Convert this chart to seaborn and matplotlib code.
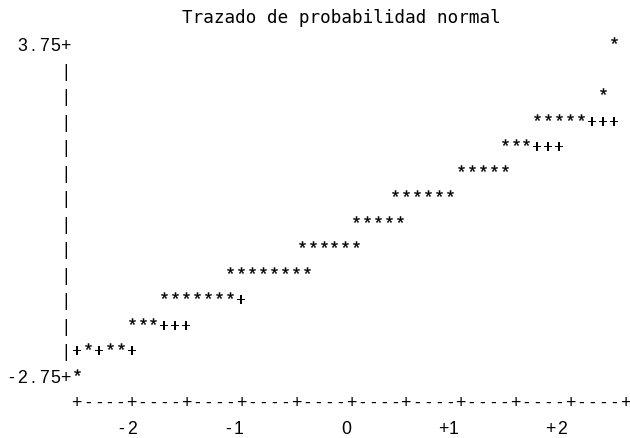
import numpy as np
import pandas as pd
import matplotlib
matplotlib.use("Agg")
import matplotlib.pyplot as plt
import seaborn as sns
from matplotlib.font_manager import FontProperties
from matplotlib.path import Path
from matplotlib.textpath import TextPath

# ---------------------------------------------------------------------------
# Normal probability plot, line-printer style: one text row per 0.5 of the
# variable, one character cell per 0.1 of the normal quantile.
# ---------------------------------------------------------------------------
TITLE = "Trazado de probabilidad normal"

# observed points: row level of the variable and normal quantile
star_value = [
    -2.75,
    -2.25, -2.25, -2.25,
    -1.75, -1.75, -1.75,
    -1.25, -1.25, -1.25, -1.25, -1.25, -1.25, -1.25,
    -0.75, -0.75, -0.75, -0.75, -0.75, -0.75, -0.75, -0.75,
    -0.25, -0.25, -0.25, -0.25, -0.25, -0.25,
    0.25, 0.25, 0.25, 0.25, 0.25,
    0.75, 0.75, 0.75, 0.75, 0.75, 0.75,
    1.25, 1.25, 1.25, 1.25, 1.25,
    1.75, 1.75, 1.75,
    2.25, 2.25, 2.25, 2.25, 2.25,
    2.75,
    3.75,
]
star_quantile = [
    -2.5,
    -2.4, -2.2, -2.1,
    -2.0, -1.9, -1.8,
    -1.7, -1.6, -1.5, -1.4, -1.3, -1.2, -1.1,
    -1.1, -1.0, -0.9, -0.8, -0.7, -0.6, -0.5, -0.4,
    -0.45, -0.35, -0.25, -0.15, -0.05, 0.05,
    0.05, 0.15, 0.25, 0.35, 0.45,
    0.4, 0.5, 0.6, 0.7, 0.8, 0.9,
    1.0, 1.1, 1.2, 1.3, 1.4,
    1.4, 1.5, 1.6,
    1.7, 1.8, 1.9, 2.0, 2.1,
    2.3,
    2.4,
]

# reference normal line, shown where no observation covers it
ref_value = [-2.25, -2.25, -2.25,
             -1.75, -1.75, -1.75,
             -1.25,
             1.75, 1.75, 1.75,
             2.25, 2.25, 2.25]
ref_quantile = [-2.5, -2.3, -2.0,
                -1.7, -1.6, -1.5,
                -1.0,
                1.7, 1.8, 1.9,
                2.2, 2.3, 2.4]

# axes
y_ticks = [3.75, -2.75]
y_tick_labels = ["3.75", "-2.75"]
x_ticks = [-2, -1, 0, 1, 2]
x_tick_labels = ["-2", "-1", "0", "+1", "+2"]
X_AXIS_START, X_AXIS_END = -2.5, 2.5

# ---------------------------------------------------------------------------
# layout
# ---------------------------------------------------------------------------
DPI = 100
W_PX, H_PX = 630, 439
FONT_PT = 12.7
CELL = 0.1            # quantile width of one character
ROW = 0.5             # variable height of one text row
X0_PX, PX_PER_Q = 76.7, 109.7     # pixel of the axis start, pixels per quantile
Y0_PX, PX_PER_V = 45.0, 51.0      # pixel of the top tick, pixels per unit
LABEL_STEP = 10.75 / PX_PER_Q     # character pitch of the tick-label line

sns.set_theme(style="white")
plt.rcParams["font.family"] = ["Liberation Sans", "DejaVu Sans"]

fig = plt.figure(figsize=(W_PX / DPI, H_PX / DPI), dpi=DPI)
fig.patch.set_facecolor("white")
ax = fig.add_axes([0, 0, 1, 1])
ax.set_xlim(X_AXIS_START - X0_PX / PX_PER_Q,
            X_AXIS_START + (W_PX - X0_PX) / PX_PER_Q)
ax.set_ylim(y_ticks[0] - (H_PX - Y0_PX) / PX_PER_V,
            y_ticks[0] + Y0_PX / PX_PER_V)
ax.axis("off")

# glyph outlines used as scatter markers, centred on the character cell
glyph_font = FontProperties(family="Liberation Sans")
digit_box = TextPath((0, 0), "0", size=FONT_PT, prop=glyph_font).get_extents()
MID_PT = (digit_box.y0 + digit_box.y1) / 2    # row centre above the baseline
R_PT = 2 * FONT_PT                            # fixed marker scale
MARK_SIZE = (2 * R_PT) ** 2                   # glyph drawn at FONT_PT


def glyph_marker(ch, lift=0.0):
    tp = TextPath((0, 0), ch, size=FONT_PT, prop=glyph_font)
    ext = tp.get_extents()
    verts = tp.vertices - np.array([(ext.x0 + ext.x1) / 2, MID_PT + lift])
    verts = np.vstack([verts, [[R_PT, R_PT]]])
    codes = np.append(tp.codes, Path.MOVETO)
    return Path(verts, codes)


stars = pd.DataFrame({"quantile": star_quantile, "value": star_value})
refs = pd.DataFrame({"quantile": ref_quantile, "value": ref_value})

sns.scatterplot(data=refs, x="quantile", y="value",
                marker=glyph_marker("+"), s=MARK_SIZE,
                color="black", linewidth=0, legend=False, ax=ax)
sns.scatterplot(data=stars, x="quantile", y="value",
                marker=glyph_marker("*", lift=-0.7), s=MARK_SIZE,
                color="black", edgecolor="black", linewidth=0.25,
                legend=False, ax=ax)

# character-drawn frame
BASE_SHIFT = MID_PT * DPI / 72 / PX_PER_V


def put_chars(text, first_q, v, step=CELL):
    for i, ch in enumerate(text):
        if ch != " ":
            ax.text(first_q + i * step, v - BASE_SHIFT, ch,
                    ha="center", va="baseline", fontsize=FONT_PT,
                    family="Liberation Sans", color="black")


def col_q(c):
    return X_AXIS_START + c * CELL


# vertical axis
n_rows = int(round((y_ticks[0] - y_ticks[-1]) / ROW))
for k in range(1, n_rows):
    put_chars("|", col_q(-1), y_ticks[0] - k * ROW)
for v, lab in zip(y_ticks, y_tick_labels):
    put_chars(lab + "+", col_q(-1 - len(lab)), v)

# horizontal axis
n_cells = int(round((X_AXIS_END - X_AXIS_START) / CELL))
axis_line = "".join("+" if c % 5 == 0 else "-" for c in range(n_cells + 1))
put_chars(axis_line, X_AXIS_START, y_ticks[-1] - ROW)

label_line = "".join(lab.rjust(10) for lab in x_tick_labels)
put_chars(label_line, x_ticks[0] - 9 * LABEL_STEP, y_ticks[-1] - 2 * ROW,
          step=LABEL_STEP)

# title
ax.text(X_AXIS_START + (181.7 - X0_PX) / PX_PER_Q,
        y_ticks[0] - (22.8 - Y0_PX) / PX_PER_V,
        TITLE, ha="left", va="baseline", fontsize=FONT_PT,
        family="DejaVu Sans Mono", color="black")

fig.savefig("out.png", dpi=DPI, facecolor="white")
